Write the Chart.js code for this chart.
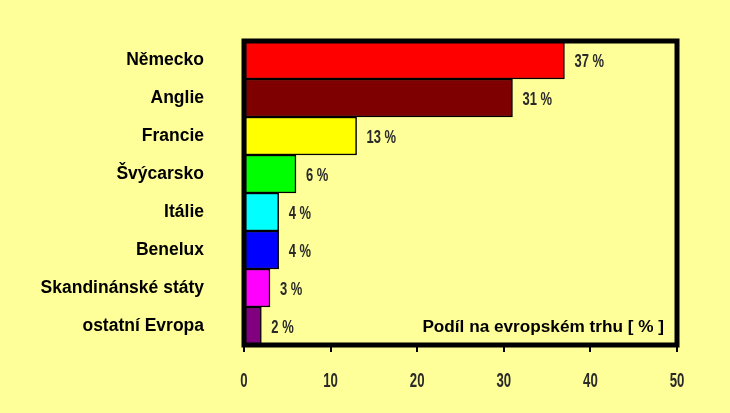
<!DOCTYPE html>
<html>
<head>
<meta charset="utf-8">
<script src="https://cdn.jsdelivr.net/npm/chart.js@4.4.1/dist/chart.umd.min.js"></script>
<style>
html,body{margin:0;padding:0;background:#FFFF99;}
#wrap{width:730px;height:413px;position:relative;}
</style>
</head>
<body>
<div id="wrap"><canvas id="c" width="730" height="413"></canvas></div>
<script>
const categories = ["Německo","Anglie","Francie","Švýcarsko","Itálie","Benelux","Skandinánské státy","ostatní Evropa"];
const shares = [37,31,13,6,4,4,3,2];
const barColors = ["#FF0000","#7F0000","#FFFF00","#00FF00","#00FFFF","#0000FF","#FF00FF","#800080"];
const xTicks = [0,10,20,30,40,50];
const axisTitle = "Podíl na evropském trhu [ % ]";

const sans = '"Liberation Sans", Arial, sans-serif';

function condensedText(ctx, text, x, y, sx, align){
  ctx.save();
  ctx.translate(x, y);
  ctx.scale(sx, 1);
  ctx.textAlign = align;
  ctx.fillText(text, 0, 0);
  ctx.restore();
}

const bgPlugin = {
  id:'bg',
  beforeDraw(chart){
    const ctx = chart.ctx;
    ctx.save();
    ctx.fillStyle = '#FFFF99';
    ctx.fillRect(0,0,chart.width,chart.height);
    ctx.restore();
  }
};
const overlayPlugin = {
  id:'overlay',
  afterDatasetsDraw(chart){
    const ctx = chart.ctx;
    const a = chart.chartArea;
    ctx.save();
    // value labels
    ctx.font = 'bold 18px ' + sans;
    ctx.fillStyle = '#2a2a2a';
    ctx.textBaseline = 'middle';
    chart.getDatasetMeta(0).data.forEach((bar,i)=>{
      condensedText(ctx, shares[i] + ' %', bar.x + 10, bar.y + 2, 0.72, 'left');
    });
    // x tick labels (condensed)
    const xs = chart.scales.x;
    ctx.font = 'bold 20px ' + sans;
    ctx.fillStyle = '#2a2a2a';
    xTicks.forEach(v=>{
      condensedText(ctx, String(v), xs.getPixelForValue(v), 381, 0.66, 'center');
    });
    // axis title inside plot
    ctx.font = 'bold 17.2px ' + sans;
    ctx.fillStyle = '#000';
    ctx.textAlign = 'right';
    ctx.fillText(axisTitle, a.right - 13, a.bottom - 18);
    // frame
    ctx.lineWidth = 5;
    ctx.strokeStyle = '#000';
    ctx.strokeRect(a.left, a.top, a.right - a.left, a.bottom - a.top);
    ctx.restore();
  }
};

new Chart(document.getElementById('c'), {
  type:'bar',
  data:{
    labels: categories,
    datasets:[{
      data: shares,
      backgroundColor: barColors,
      borderColor:'#000',
      borderWidth:1.5,
      borderSkipped:false,
      barPercentage:1,
      categoryPercentage:1
    }]
  },
  options:{
    indexAxis:'y',
    responsive:false,
    animation:false,
    devicePixelRatio:1,
    layout:{padding:{top:41,right:53,bottom:0,left:0}},
    plugins:{legend:{display:false},tooltip:{enabled:false},title:{display:false}},
    scales:{
      x:{
        min:0,max:50,
        afterBuildTicks(s){ s.ticks = xTicks.map(v=>({value:v})); },
        afterFit(s){ s.height = 68; },
        grid:{drawOnChartArea:false,drawTicks:true,tickLength:7,color:'#000',lineWidth:2},
        border:{display:false},
        ticks:{padding:18,color:'rgba(0,0,0,0)',font:{family:sans,size:12,weight:'bold'},maxRotation:0}
      },
      y:{
        afterFit(s){ s.width = 244; s.paddingTop = 0; s.paddingBottom = 0; },
        grid:{display:false,drawTicks:false},
        border:{display:false},
        ticks:{padding:40,color:'#000',font:{family:sans,size:17.5,weight:'bold'}}
      }
    }
  },
  plugins:[bgPlugin,overlayPlugin]
});
</script>
</body>
</html>
